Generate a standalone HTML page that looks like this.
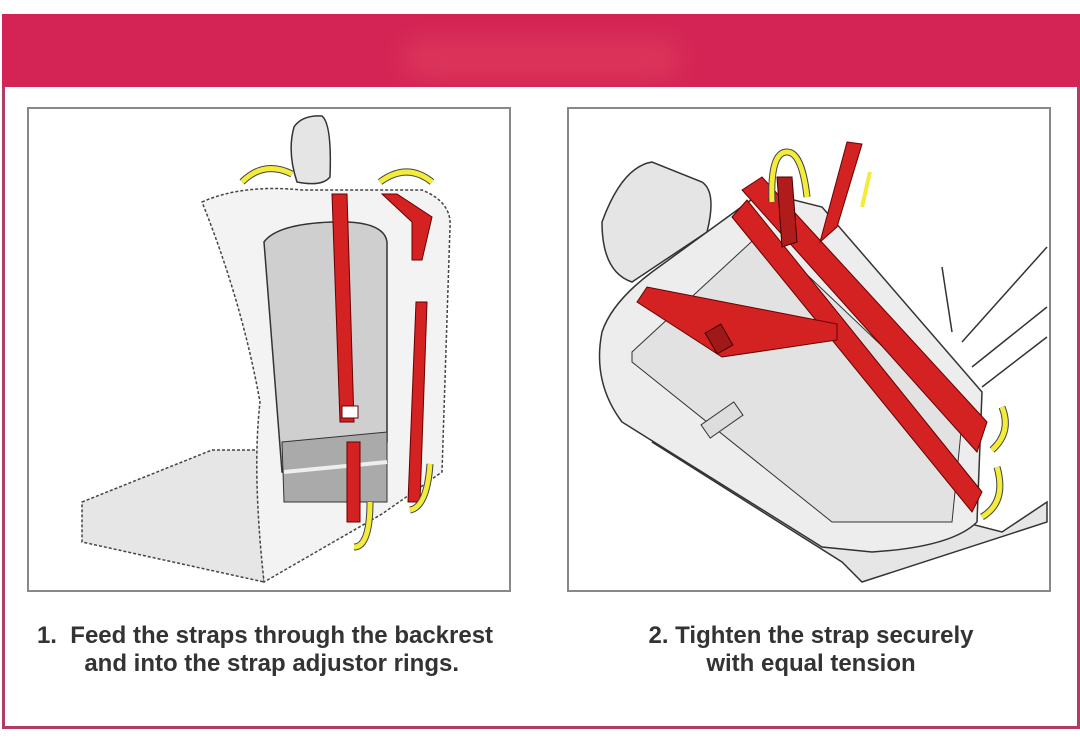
<!DOCTYPE html>
<html><head><style>
html,body{margin:0;padding:0;background:#fff;}
body{width:1080px;height:753px;position:relative;overflow:hidden;font-family:"Liberation Sans",sans-serif;}
.frame{position:absolute;left:2px;top:14px;width:1072px;height:712px;border:3px solid #b43a66;border-top:none;}
.band{position:absolute;left:2px;top:14px;width:1078px;height:73px;background:#d42455;overflow:hidden;}
.glow{position:absolute;left:400px;top:25px;width:280px;height:40px;background:#e0405e;filter:blur(12px);border-radius:30px;opacity:.6}
.panel{position:absolute;top:107px;width:480px;height:481px;border:2px solid #888;background:#fff;}
.cap{position:absolute;font-weight:bold;font-size:24px;color:#333;text-align:center;line-height:28px;}
</style></head><body>
<div class="frame"></div>
<div class="band"><div class="glow"></div></div>

<div class="panel" style="left:27px;">
<svg width="480" height="481" viewBox="27 107 480 481">
 <path d="M80 500 L210 448 L262 448 L262 580 L80 540 Z" fill="#e6e6e6" stroke="#444" stroke-width="1.5" stroke-dasharray="3 2"/>
 <path d="M200 200 Q240 182 300 188 L420 188 Q450 200 448 225 L440 470 L380 512 L262 580 Q250 470 258 400 Q240 300 200 200 Z" fill="#f3f3f3" stroke="#444" stroke-width="1.5" stroke-dasharray="3 2"/>
 <path d="M262 240 Q275 222 330 220 Q382 218 385 240 L385 440 L290 470 L280 470 Z" fill="#cfcfcf" stroke="#333" stroke-width="1.5"/>
 <path d="M280 440 L385 430 L385 500 L282 500 Z" fill="#aaa" stroke="#333"/>
 <path d="M282 470 L385 460" stroke="#eee" stroke-width="4"/>
 <path d="M292 125 Q300 113 320 114 L320 114 Q330 122 328 175 Q320 185 295 180 Q285 150 292 125 Z" fill="#e5e5e5" stroke="#333" stroke-width="1.5"/>
 <path d="M330 192 L345 192 L352 420 L338 420 Z" fill="#d42222" stroke="#600" stroke-width="1"/>
 <path d="M345 440 L358 440 L358 520 L345 520 Z" fill="#d42222" stroke="#600"/>
 <path d="M380 192 L395 192 L430 215 L420 258 L410 258 L410 220 Z" fill="#d42222" stroke="#600"/>
 <path d="M414 300 L425 300 L418 500 L406 500 Z" fill="#d42222" stroke="#600"/>
 <rect x="340" y="404" width="16" height="12" fill="#fff" stroke="#600"/>
 <path d="M240 180 Q262 158 290 172" fill="none" stroke="#444" stroke-width="7"/>
 <path d="M240 180 Q262 158 290 172" fill="none" stroke="#f3ec3a" stroke-width="5"/>
 <path d="M378 180 Q405 160 430 180" fill="none" stroke="#444" stroke-width="7"/>
 <path d="M378 180 Q405 160 430 180" fill="none" stroke="#f3ec3a" stroke-width="5"/>
 <path d="M352 545 Q368 545 368 500" fill="none" stroke="#444" stroke-width="7"/>
 <path d="M352 545 Q368 545 368 500" fill="none" stroke="#f3ec3a" stroke-width="5"/>
 <path d="M408 508 Q425 505 428 462" fill="none" stroke="#444" stroke-width="7"/>
 <path d="M408 508 Q425 505 428 462" fill="none" stroke="#f3ec3a" stroke-width="5"/>
</svg>
</div>

<div class="panel" style="left:567px;">
<svg width="480" height="481" viewBox="567 107 480 481">
 <path d="M940 265 L950 330 M1045 245 L960 340 M1045 305 L970 365 M1045 335 L980 385" stroke="#333" stroke-width="1.5"/>
 <path d="M650 440 L1000 530 L1045 500 L1045 520 L860 580 L840 560 Z" fill="#e6e6e6" stroke="#333" stroke-width="1.5"/>
 <path d="M600 220 Q620 165 650 160 L700 180 Q715 190 705 230 L630 280 Q600 270 600 220 Z" fill="#e5e5e5" stroke="#333" stroke-width="1.5"/>
 <path d="M600 330 Q610 300 650 270 L760 190 L820 205 L980 390 L975 520 Q950 545 870 550 L820 545 L620 420 Q590 380 600 330 Z" fill="#ededed" stroke="#333" stroke-width="1.5"/>
 <path d="M630 350 L760 230 L960 420 L950 520 L830 520 L630 360 Z" fill="#e2e2e2" stroke="#333"/>
 <rect x="700" y="410" width="40" height="16" fill="#ddd" stroke="#333" transform="rotate(-35 720 418)"/>
 <path d="M740 188 L760 175 L985 420 L975 450 Z" fill="#d42222" stroke="#600"/>
 <path d="M730 215 L745 198 L980 490 L970 510 Z" fill="#d42222" stroke="#600"/>
 <path d="M635 300 L645 285 L835 322 L835 338 L720 355 Z" fill="#d42222" stroke="#600"/>
 <rect x="708" y="325" width="18" height="24" fill="#a01818" stroke="#400" transform="rotate(-30 717 337)"/>
 <path d="M775 175 L790 175 L795 240 L780 245 Z" fill="#b01c1c" stroke="#400"/>
 <path d="M845 140 L860 142 L835 225 L818 240 Z" fill="#d42222" stroke="#600"/>
 <path d="M770 200 Q768 150 785 150 Q800 150 805 195" fill="none" stroke="#444" stroke-width="7"/>
 <path d="M770 200 Q768 150 785 150 Q800 150 805 195" fill="none" stroke="#f3ec3a" stroke-width="5"/>
 <path d="M860 205 L868 170" stroke="#f3ec3a" stroke-width="4"/>
 <path d="M990 448 Q1010 430 1000 405" fill="none" stroke="#444" stroke-width="7"/>
 <path d="M990 448 Q1010 430 1000 405" fill="none" stroke="#f3ec3a" stroke-width="5"/>
 <path d="M980 515 Q1005 500 995 465" fill="none" stroke="#444" stroke-width="7"/>
 <path d="M980 515 Q1005 500 995 465" fill="none" stroke="#f3ec3a" stroke-width="5"/>
</svg>
</div>

<div class="cap" style="left:10px;top:622px;width:510px;">1.&nbsp; Feed the straps through the backrest<br>&nbsp;&nbsp;and into the strap adjustor rings.</div>
<div class="cap" style="left:556px;top:622px;width:510px;">2. Tighten the strap securely<br>with equal tension</div>
</body></html>
